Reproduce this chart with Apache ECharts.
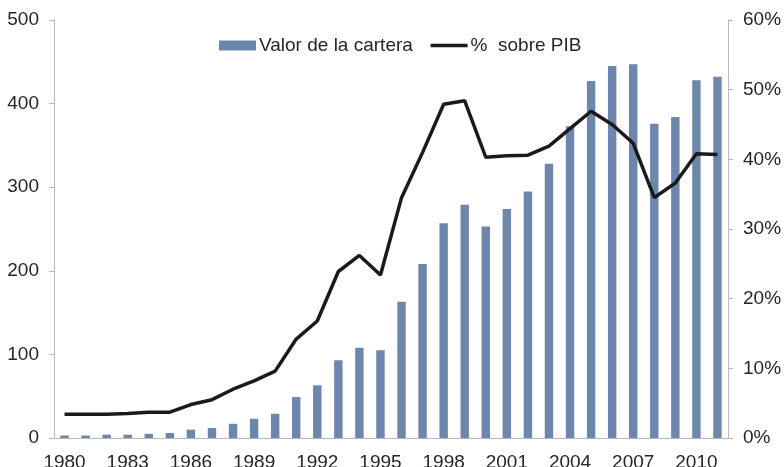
<!DOCTYPE html>
<html>
<head>
<meta charset="utf-8">
<script src="https://cdn.jsdelivr.net/npm/echarts@6/dist/echarts.min.js"></script>
<style>
  html, body { margin: 0; padding: 0; background: #fff; }
  #chart { width: 784px; height: 467px; }
</style>
</head>
<body>
<div id="chart"></div>
<script>
const years = [];
for (let y = 1980; y <= 2011; y++) years.push(String(y));

const carteraValues = [3, 3, 4, 4, 5, 6, 10, 12, 17, 23, 29, 49, 63, 93, 108, 105,
  163, 208, 257, 279, 253, 274, 295, 328, 373, 427, 445, 447, 376, 384, 428, 432];

const pibPercent = [3.4, 3.4, 3.4, 3.5, 3.7, 3.7, 4.8, 5.5, 7.0, 8.2, 9.6, 14.2, 16.8, 23.9, 26.2, 23.4,
  34.5, 41.0, 47.9, 48.4, 40.3, 40.5, 40.6, 41.9, 44.4, 46.9, 45.0, 42.3, 34.5, 36.6, 40.8, 40.7];

const axisColor = '#b8b8b8';
const textColor = '#262626';

const chart = echarts.init(document.getElementById('chart'));

const option = {
  backgroundColor: '#ffffff',
  animation: false,
  grid: { left: 54, right: 56, top: 20, bottom: 29, containLabel: false, outerBoundsMode: 'none' },
  legend: {
    left: 214,
    top: 31,
    itemWidth: 37,
    itemHeight: 10,
    itemGap: 16,
    textStyle: { fontFamily: 'Liberation Sans', fontSize: 19, color: textColor, padding: [0, 0, 0, -2] },
    data: [
      { name: 'Valor de la cartera', icon: 'rect' },
      { name: '%  sobre PIB', itemStyle: { opacity: 0 }, lineStyle: { width: 3.5, color: '#1a1a1a' } }
    ]
  },
  xAxis: {
    type: 'category',
    data: years,
    boundaryGap: true,
    axisLine: { lineStyle: { color: axisColor, width: 1 } },
    axisTick: { interval: 0, length: 5, lineStyle: { color: axisColor } },
    axisLabel: {
      interval: 2,
      margin: 15,
      fontFamily: 'Liberation Sans',
      fontSize: 19,
      color: textColor
    },
    splitLine: { show: false }
  },
  yAxis: [
    {
      type: 'value',
      min: 0,
      max: 500,
      interval: 100,
      axisLine: { show: true, lineStyle: { color: axisColor } },
      axisTick: { show: true, length: 5, lineStyle: { color: axisColor } },
      axisLabel: { margin: 15, fontFamily: 'Liberation Sans', fontSize: 19, color: textColor },
      splitLine: { show: false }
    },
    {
      type: 'value',
      min: 0,
      max: 60,
      interval: 10,
      position: 'right',
      axisLine: { show: true, lineStyle: { color: axisColor } },
      axisTick: { show: true, length: 5, lineStyle: { color: axisColor } },
      axisLabel: {
        margin: 15,
        fontFamily: 'Liberation Sans',
        fontSize: 19,
        color: textColor,
        formatter: '{value}%'
      },
      splitLine: { show: false }
    }
  ],
  series: [
    {
      name: 'Valor de la cartera',
      type: 'bar',
      yAxisIndex: 0,
      data: carteraValues,
      barWidth: '40%',
      itemStyle: { color: '#6d87ac' }
    },
    {
      name: '%  sobre PIB',
      type: 'line',
      yAxisIndex: 1,
      data: pibPercent,
      symbol: 'none',
      lineStyle: { color: '#1a1a1a', width: 3.5 },
      itemStyle: { color: '#1a1a1a' }
    }
  ]
};

chart.setOption(option);
</script>
</body>
</html>
